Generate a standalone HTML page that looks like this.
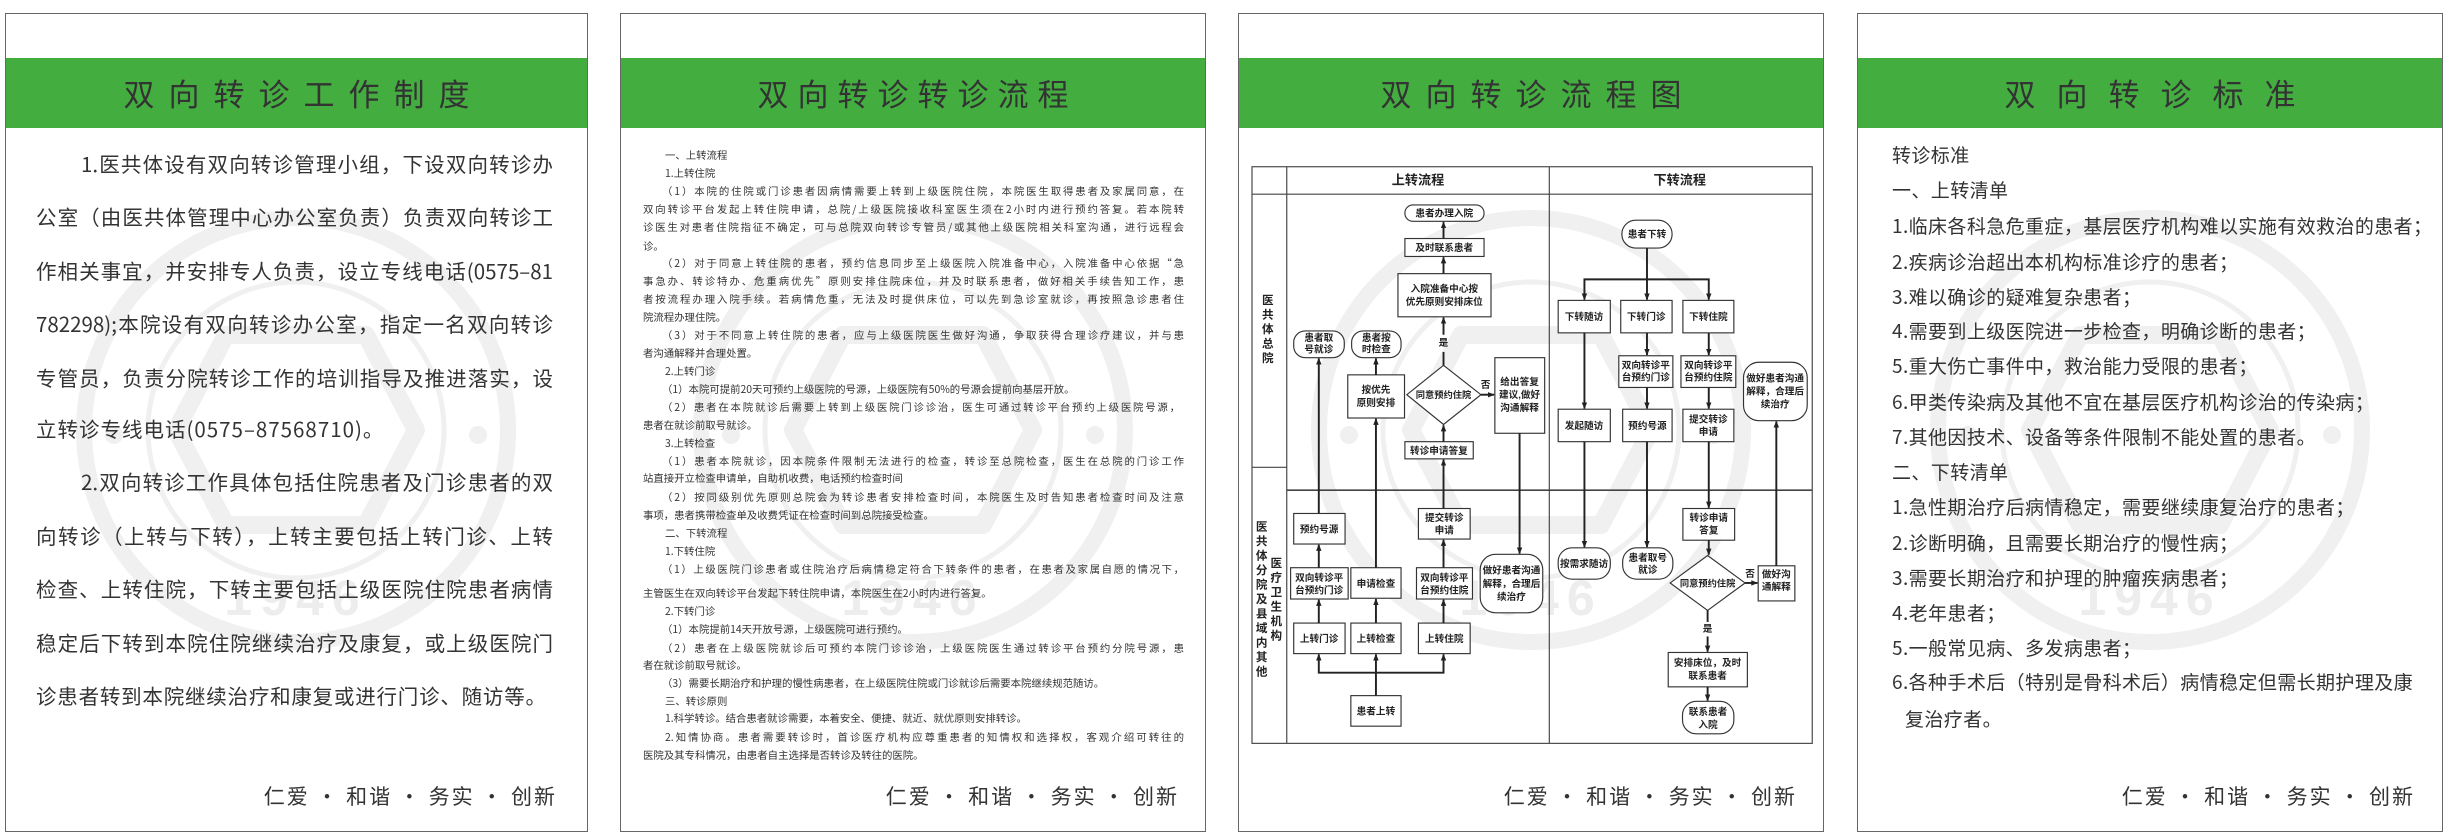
<!DOCTYPE html>
<html><head><meta charset="utf-8">
<style>
body{margin:0;width:2453px;height:839px;background:#fff;position:relative;overflow:hidden;font-family:"Liberation Sans","Noto Sans CJK SC",sans-serif;color:#333}
.pan{position:absolute;top:13px;height:819px;border:1.5px solid #666;box-sizing:border-box;background:#fff}
.band{position:absolute;top:58px;height:70px;background:#43ae3f}
.ttl{position:absolute;top:58px;height:70px;line-height:70px;text-align:center;font-size:31px;color:#333;font-family:"Noto Sans CJK SC",sans-serif}
.wm{position:absolute}
.l{position:absolute;white-space:nowrap;font-family:"Noto Sans CJK SC",sans-serif}
.j{text-align:justify;text-align-last:justify}
.a{font-size:20.5px;line-height:26px}
.b{font-size:10.4px;line-height:14px}
.c{font-size:19px;line-height:24px;letter-spacing:0.4px}
.slo{position:absolute;top:782px;font-size:21px;line-height:28px;white-space:nowrap;font-family:"Noto Sans CJK SC",sans-serif;letter-spacing:2px}
</style></head><body>

<div class="pan" style="left:5px;width:583px"></div>
<div class="pan" style="left:620px;width:586px"></div>
<div class="pan" style="left:1238px;width:586px"></div>
<div class="pan" style="left:1857px;width:586px"></div>

<!-- watermarks -->
<svg class="wm" style="left:66px;top:200px" width="460" height="460" viewBox="-230 -230 460 460">
<g fill="none" stroke="#f0f0f0"><circle r="212" stroke-width="16"/><circle r="148" stroke-width="5"/>
<path d="M-70,-95 L70,-95 L120,0 L70,95 L-70,95 L-120,0 Z" stroke-width="18" stroke-linejoin="round"/></g>
<circle cx="-182" cy="5" r="9" fill="#f0f0f0"/><circle cx="182" cy="5" r="9" fill="#f0f0f0"/>
<text x="0" y="185" text-anchor="middle" font-size="50" font-weight="bold" fill="#ededed" font-family="Liberation Sans,sans-serif" letter-spacing="8">1946</text></svg>
<svg class="wm" style="left:683px;top:200px" width="460" height="460" viewBox="-230 -230 460 460">
<g fill="none" stroke="#f0f0f0"><circle r="212" stroke-width="16"/><circle r="148" stroke-width="5"/>
<path d="M-70,-95 L70,-95 L120,0 L70,95 L-70,95 L-120,0 Z" stroke-width="18" stroke-linejoin="round"/></g>
<circle cx="-182" cy="5" r="9" fill="#f0f0f0"/><circle cx="182" cy="5" r="9" fill="#f0f0f0"/>
<text x="0" y="185" text-anchor="middle" font-size="50" font-weight="bold" fill="#ededed" font-family="Liberation Sans,sans-serif" letter-spacing="8">1946</text></svg>
<svg class="wm" style="left:1301px;top:200px" width="460" height="460" viewBox="-230 -230 460 460">
<g fill="none" stroke="#f0f0f0"><circle r="212" stroke-width="16"/><circle r="148" stroke-width="5"/>
<path d="M-70,-95 L70,-95 L120,0 L70,95 L-70,95 L-120,0 Z" stroke-width="18" stroke-linejoin="round"/></g>
<circle cx="-182" cy="5" r="9" fill="#f0f0f0"/><circle cx="182" cy="5" r="9" fill="#f0f0f0"/>
<text x="0" y="185" text-anchor="middle" font-size="50" font-weight="bold" fill="#ededed" font-family="Liberation Sans,sans-serif" letter-spacing="8">1946</text></svg>
<svg class="wm" style="left:1920px;top:200px" width="460" height="460" viewBox="-230 -230 460 460">
<g fill="none" stroke="#f0f0f0"><circle r="212" stroke-width="16"/><circle r="148" stroke-width="5"/>
<path d="M-70,-95 L70,-95 L120,0 L70,95 L-70,95 L-120,0 Z" stroke-width="18" stroke-linejoin="round"/></g>
<circle cx="-182" cy="5" r="9" fill="#f0f0f0"/><circle cx="182" cy="5" r="9" fill="#f0f0f0"/>
<text x="0" y="185" text-anchor="middle" font-size="50" font-weight="bold" fill="#ededed" font-family="Liberation Sans,sans-serif" letter-spacing="8">1946</text></svg>

<div class="band" style="left:6px;width:581px"></div>
<div class="band" style="left:621px;width:584px"></div>
<div class="band" style="left:1239px;width:584px"></div>
<div class="band" style="left:1858px;width:584px"></div>
<div class="ttl" style="left:6px;width:581px;letter-spacing:14px;text-indent:14px">双向转诊工作制度</div>
<div class="ttl" style="left:621px;width:584px;letter-spacing:9px;text-indent:9px">双向转诊转诊流程</div>
<div class="ttl" style="left:1239px;width:584px;letter-spacing:14px;text-indent:14px">双向转诊流程图</div>
<div class="ttl" style="left:1858px;width:584px;letter-spacing:21px;text-indent:21px">双向转诊标准</div>

<!-- panel 1 -->
<div class="l a j" style="left:81px;width:472px;top:150px">1.医共体设有双向转诊管理小组，下设双向转诊办</div>
<div class="l a j" style="left:36px;width:517px;top:203px">公室（由医共体管理中心办公室负责）负责双向转诊工</div>
<div class="l a j" style="left:36px;width:517px;top:257px">作相关事宜，并安排专人负责，设立专线电话(0575–81</div>
<div class="l a j" style="left:36px;width:517px;top:310px">782298);本院设有双向转诊办公室，指定一名双向转诊</div>
<div class="l a j" style="left:36px;width:517px;top:364px">专管员，负责分院转诊工作的培训指导及推进落实，设</div>
<div class="l a" style="left:36px;top:415px;letter-spacing:1px">立转诊专线电话(0575–87568710)。</div>
<div class="l a j" style="left:81px;width:472px;top:468px">2.双向转诊工作具体包括住院患者及门诊患者的双</div>
<div class="l a j" style="left:36px;width:517px;top:522px">向转诊（上转与下转），上转主要包括上转门诊、上转</div>
<div class="l a j" style="left:36px;width:517px;top:575px">检查、上转住院，下转主要包括上级医院住院患者病情</div>
<div class="l a j" style="left:36px;width:517px;top:629px">稳定后下转到本院住院继续治疗及康复，或上级医院门</div>
<div class="l a j" style="left:36px;width:510px;top:682px">诊患者转到本院继续治疗和康复或进行门诊、随访等。</div>
<div class="slo" style="right:1896px">仁爱 · 和谐 · 务实 · 创新</div>

<!-- panel 2 -->
<div class="l b" style="left:665px;top:148px">一、上转流程</div>
<div class="l b" style="left:665px;top:166px">1.上转住院</div>
<div class="l b j" style="left:662px;width:522px;top:184px">（1）本院的住院或门诊患者因病情需要上转到上级医院住院，本院医生取得患者及家属同意，在</div>
<div class="l b j" style="left:643px;width:541px;top:202px">双向转诊平台发起上转住院申请，总院/上级医院接收科室医生须在2小时内进行预约答复。若本院转</div>
<div class="l b j" style="left:643px;width:541px;top:220px">诊医生对患者住院指征不确定，可与总院双向转诊专管员/或其他上级医院相关科室沟通，进行远程会</div>
<div class="l b" style="left:643px;top:239px">诊。</div>
<div class="l b j" style="left:662px;width:522px;top:256px">（2）对于同意上转住院的患者，预约信息同步至上级医院入院准备中心，入院准备中心依据“急</div>
<div class="l b j" style="left:643px;width:541px;top:274px">事急办、转诊特办、危重病优先”原则安排住院床位，并及时联系患者，做好相关手续告知工作，患</div>
<div class="l b j" style="left:643px;width:541px;top:292px">者按流程办理入院手续。若病情危重，无法及时提供床位，可以先到急诊室就诊，再按照急诊患者住</div>
<div class="l b" style="left:643px;top:310px">院流程办理住院。</div>
<div class="l b j" style="left:662px;width:522px;top:328px">（3）对于不同意上转住院的患者，应与上级医院医生做好沟通，争取获得合理诊疗建议，并与患</div>
<div class="l b" style="left:643px;top:346px">者沟通解释并合理处置。</div>
<div class="l b" style="left:665px;top:364px">2.上转门诊</div>
<div class="l b" style="left:662px;top:382px">（1）本院可提前20天可预约上级医院的号源，上级医院有50%的号源会提前向基层开放。</div>
<div class="l b j" style="left:662px;width:518px;top:400px">（2）患者在本院就诊后需要上转到上级医院门诊诊治，医生可通过转诊平台预约上级医院号源，</div>
<div class="l b" style="left:643px;top:418px">患者在就诊前取号就诊。</div>
<div class="l b" style="left:665px;top:436px">3.上转检查</div>
<div class="l b j" style="left:662px;width:522px;top:454px">（1）患者本院就诊，因本院条件限制无法进行的检查，转诊至总院检查，医生在总院的门诊工作</div>
<div class="l b" style="left:643px;top:471px">站直接开立检查申请单，自助机收费，电话预约检查时间</div>
<div class="l b j" style="left:662px;width:522px;top:490px">（2）按同级别优先原则总院会为转诊患者安排检查时间，本院医生及时告知患者检查时间及注意</div>
<div class="l b" style="left:643px;top:508px">事项，患者携带检查单及收费凭证在检查时间到总院接受检查。</div>
<div class="l b" style="left:665px;top:526px">二、下转流程</div>
<div class="l b" style="left:665px;top:544px">1.下转住院</div>
<div class="l b j" style="left:662px;width:522px;top:562px">（1）上级医院门诊患者或住院治疗后病情稳定符合下转条件的患者，在患者及家属自愿的情况下，</div>
<div class="l b" style="left:643px;top:586px">主管医生在双向转诊平台发起下转住院申请，本院医生在2小时内进行答复。</div>
<div class="l b" style="left:665px;top:604px">2.下转门诊</div>
<div class="l b" style="left:662px;top:622px">（1）本院提前14天开放号源，上级医院可进行预约。</div>
<div class="l b j" style="left:662px;width:522px;top:641px">（2）患者在上级医院就诊后可预约本院门诊诊治，上级医院医生通过转诊平台预约分院号源，患</div>
<div class="l b" style="left:643px;top:658px">者在就诊前取号就诊。</div>
<div class="l b" style="left:662px;top:676px">（3）需要长期治疗和护理的慢性病患者，在上级医院住院或门诊就诊后需要本院继续规范随访。</div>
<div class="l b" style="left:665px;top:694px">三、转诊原则</div>
<div class="l b" style="left:665px;top:711px">1.科学转诊。结合患者就诊需要，本着安全、便捷、就近、就优原则安排转诊。</div>
<div class="l b j" style="left:665px;width:519px;top:730px">2.知情协商。患者需要转诊时，首诊医疗机构应尊重患者的知情权和选择权，客观介绍可转往的</div>
<div class="l b" style="left:643px;top:748px">医院及其专科情况，由患者自主选择是否转诊及转往的医院。</div>
<div class="slo" style="right:1274px">仁爱 · 和谐 · 务实 · 创新</div>

<!-- panel 3 flowchart -->
<svg style="position:absolute;left:1230px;top:140px" width="600" height="611" viewBox="0 0 1554 1600" preserveAspectRatio="none">
<defs><marker id="ar" markerUnits="userSpaceOnUse" markerWidth="18" markerHeight="18" refX="16" refY="9" orient="auto"><path d="M0,2 L18,9 L0,16 Z" fill="#222"/></marker></defs>
<g fill="none" stroke="#444" stroke-width="3">
<rect x="57" y="70" width="1451" height="1510"/>
<line x1="57" y1="142" x2="1508" y2="142"/>
<line x1="147" y1="70" x2="147" y2="1580"/>
<line x1="827" y1="70" x2="827" y2="1580"/>
<line x1="57" y1="857" x2="147" y2="857"/>
<line x1="147" y1="917" x2="1508" y2="917" stroke-width="4"/>
</g>
<g font-family="Liberation Sans,Noto Sans CJK SC,sans-serif" font-weight="bold" fill="#222" text-anchor="middle">
<text x="487" y="117" font-size="34">上转流程</text>
<text x="1165" y="117" font-size="34">下转流程</text>
<g font-size="30"><text x="98" y="430">医</text><text x="98" y="468">共</text><text x="98" y="506">体</text><text x="98" y="544">总</text><text x="98" y="582">院</text>
<text x="82" y="1022">医</text><text x="82" y="1060">共</text><text x="82" y="1098">体</text><text x="82" y="1136">分</text><text x="82" y="1174">院</text><text x="82" y="1212">及</text><text x="82" y="1250">县</text><text x="82" y="1288">域</text><text x="82" y="1326">内</text><text x="82" y="1364">其</text><text x="82" y="1402">他</text>
<text x="120" y="1118">医</text><text x="120" y="1156">疗</text><text x="120" y="1194">卫</text><text x="120" y="1232">生</text><text x="120" y="1270">机</text><text x="120" y="1308">构</text></g>
</g>
<g fill="#fff" stroke="#333" stroke-width="3">
<rect x="453" y="170" width="205" height="43" rx="21"/>
<rect x="453" y="258" width="205" height="47"/>
<rect x="435" y="350" width="241" height="113"/>
<path d="M553,590 L650,667 L553,745 L458,667 Z"/>
<rect x="686" y="570" width="129" height="198"/>
<rect x="453" y="790" width="177" height="45"/>
<rect x="165" y="500" width="131" height="70" rx="30"/>
<rect x="315" y="500" width="128" height="70" rx="30"/>
<rect x="305" y="615" width="147" height="113"/>
<rect x="165" y="978" width="133" height="80"/>
<rect x="157" y="1120" width="149" height="82"/>
<rect x="313" y="1120" width="130" height="80"/>
<rect x="488" y="965" width="134" height="80"/>
<rect x="483" y="1120" width="145" height="82"/>
<rect x="648" y="1085" width="162" height="153" rx="40"/>
<rect x="165" y="1265" width="133" height="80"/>
<rect x="313" y="1265" width="130" height="80"/>
<rect x="488" y="1265" width="134" height="80"/>
<rect x="313" y="1455" width="130" height="80"/>
<rect x="1015" y="210" width="130" height="73" rx="36"/>
<rect x="850" y="420" width="135" height="85"/>
<rect x="1012" y="420" width="133" height="85"/>
<rect x="1173" y="420" width="132" height="85"/>
<rect x="1007" y="565" width="140" height="83"/>
<rect x="1168" y="565" width="142" height="83"/>
<rect x="850" y="705" width="135" height="85"/>
<rect x="1017" y="705" width="128" height="85"/>
<rect x="1173" y="705" width="132" height="85"/>
<rect x="1330" y="582" width="165" height="153" rx="40"/>
<rect x="850" y="1068" width="135" height="82" rx="36"/>
<rect x="1017" y="1068" width="130" height="82" rx="36"/>
<rect x="1173" y="965" width="134" height="83"/>
<path d="M1237,1088 L1334,1160 L1237,1232 L1140,1160 Z"/>
<rect x="1368" y="1115" width="95" height="92"/>
<rect x="1135" y="1342" width="205" height="90"/>
<rect x="1172" y="1470" width="133" height="85" rx="36"/>
</g>
<g stroke="#222" stroke-width="5" fill="none" marker-end="url(#ar)">
<line x1="553" y1="258" x2="553" y2="215"/>
<line x1="553" y1="350" x2="553" y2="307"/>
<line x1="553" y1="510" x2="553" y2="465"/>
<line x1="553" y1="790" x2="553" y2="747"/>
<line x1="553" y1="965" x2="553" y2="837"/>
<line x1="553" y1="1120" x2="553" y2="1047"/>
<line x1="553" y1="1265" x2="553" y2="1204"/>
<line x1="650" y1="667" x2="684" y2="667"/>
<line x1="230" y1="978" x2="230" y2="572"/>
<line x1="230" y1="1120" x2="230" y2="1060"/>
<line x1="230" y1="1265" x2="230" y2="1204"/>
<line x1="378" y1="615" x2="378" y2="572"/>
<line x1="378" y1="1120" x2="378" y2="730"/>
<line x1="378" y1="1265" x2="378" y2="1202"/>
<line x1="750" y1="768" x2="750" y2="1083"/>
<line x1="378" y1="1455" x2="378" y2="1347"/>
<polyline points="378,1395 230,1395 230,1347"/>
<polyline points="378,1395 553,1395 553,1347"/>
<polyline points="1080,365 918,365 918,418"/>
<polyline points="1080,365 1240,365 1240,418"/>
<line x1="1080" y1="283" x2="1080" y2="418"/>
<line x1="1080" y1="505" x2="1080" y2="563"/>
<line x1="1240" y1="505" x2="1240" y2="563"/>
<line x1="918" y1="505" x2="918" y2="703"/>
<line x1="1080" y1="648" x2="1080" y2="703"/>
<line x1="1240" y1="648" x2="1240" y2="703"/>
<line x1="918" y1="790" x2="918" y2="1066"/>
<line x1="1080" y1="790" x2="1080" y2="1066"/>
<line x1="1240" y1="790" x2="1240" y2="963"/>
<line x1="1240" y1="1048" x2="1240" y2="1086"/>
<line x1="1334" y1="1160" x2="1366" y2="1160"/>
<line x1="1415" y1="1115" x2="1415" y2="737"/>
<line x1="1237" y1="1300" x2="1237" y2="1340"/>
<line x1="1237" y1="1432" x2="1237" y2="1468"/>
</g>
<g stroke="#222" stroke-width="5"><line x1="553" y1="590" x2="553" y2="555"/><line x1="1237" y1="1232" x2="1237" y2="1262"/></g>
<g font-family="Liberation Sans,Noto Sans CJK SC,sans-serif" font-weight="bold" fill="#222" text-anchor="middle" font-size="25">
<text x="555" y="200">患者办理入院</text>
<text x="555" y="291">及时联系患者</text>
<text x="555" y="398">入院准备中心按</text><text x="555" y="432">优先原则安排床位</text>
<text x="553" y="540">是</text>
<text x="553" y="676" font-size="24">同意预约住院</text>
<text x="662" y="650">否</text>
<text x="750" y="642">给出答复</text><text x="750" y="676">建议,做好</text><text x="750" y="710">沟通解释</text>
<text x="541" y="822">转诊申请答复</text>
<text x="230" y="527">患者取</text><text x="230" y="557">号就诊</text>
<text x="379" y="527">患者按</text><text x="379" y="557">时检查</text>
<text x="378" y="663">按优先</text><text x="378" y="697">原则安排</text>
<text x="231" y="1028">预约号源</text>
<text x="231" y="1155">双向转诊平</text><text x="231" y="1187">台预约门诊</text>
<text x="378" y="1170">申请检查</text>
<text x="555" y="998">提交转诊</text><text x="555" y="1030">申请</text>
<text x="555" y="1155">双向转诊平</text><text x="555" y="1187">台预约住院</text>
<text x="729" y="1135">做好患者沟通</text><text x="729" y="1170">解释，合理后</text><text x="729" y="1204">续治疗</text>
<text x="231" y="1315">上转门诊</text>
<text x="378" y="1315">上转检查</text>
<text x="555" y="1315">上转住院</text>
<text x="378" y="1505">患者上转</text>
<text x="1080" y="255">患者下转</text>
<text x="917" y="472">下转随访</text>
<text x="1078" y="472">下转门诊</text>
<text x="1239" y="472">下转住院</text>
<text x="1077" y="598">双向转诊平</text><text x="1077" y="630">台预约门诊</text>
<text x="1239" y="598">双向转诊平</text><text x="1239" y="630">台预约住院</text>
<text x="917" y="757">发起随访</text>
<text x="1081" y="757">预约号源</text>
<text x="1239" y="740">提交转诊</text><text x="1239" y="772">申请</text>
<text x="1412" y="632">做好患者沟通</text><text x="1412" y="666">解释，合理后</text><text x="1412" y="700">续治疗</text>
<text x="917" y="1118">按需求随访</text>
<text x="1082" y="1102">患者取号</text><text x="1082" y="1134">就诊</text>
<text x="1240" y="998">转诊申请</text><text x="1240" y="1030">答复</text>
<text x="1237" y="1169" font-size="24">同意预约住院</text>
<text x="1347" y="1145">否</text>
<text x="1415" y="1146">做好沟</text><text x="1415" y="1178">通解释</text>
<text x="1237" y="1288">是</text>
<text x="1237" y="1378">安排床位，及时</text><text x="1237" y="1412">联系患者</text>
<text x="1238" y="1506">联系患者</text><text x="1238" y="1540">入院</text>
</g>
</svg>
<div class="slo" style="right:656px">仁爱 · 和谐 · 务实 · 创新</div>

<!-- panel 4 -->
<div class="l c" style="left:1892px;top:143px">转诊标准</div>
<div class="l c" style="left:1892px;top:178px">一、上转清单</div>
<div class="l c" style="left:1892px;top:214px">1.临床各科急危重症，基层医疗机构难以实施有效救治的患者；</div>
<div class="l c" style="left:1892px;top:250px">2.疾病诊治超出本机构标准诊疗的患者；</div>
<div class="l c" style="left:1892px;top:285px">3.难以确诊的疑难复杂患者；</div>
<div class="l c" style="left:1892px;top:319px">4.需要到上级医院进一步检查，明确诊断的患者；</div>
<div class="l c" style="left:1892px;top:354px">5.重大伤亡事件中，救治能力受限的患者；</div>
<div class="l c" style="left:1892px;top:390px">6.甲类传染病及其他不宜在基层医疗机构诊治的传染病；</div>
<div class="l c" style="left:1892px;top:425px">7.其他因技术、设备等条件限制不能处置的患者。</div>
<div class="l c" style="left:1892px;top:460px">二、下转清单</div>
<div class="l c" style="left:1892px;top:495px">1.急性期治疗后病情稳定，需要继续康复治疗的患者；</div>
<div class="l c" style="left:1892px;top:531px">2.诊断明确，且需要长期治疗的慢性病；</div>
<div class="l c" style="left:1892px;top:566px">3.需要长期治疗和护理的肿瘤疾病患者；</div>
<div class="l c" style="left:1892px;top:601px">4.老年患者；</div>
<div class="l c" style="left:1892px;top:636px">5.一般常见病、多发病患者；</div>
<div class="l c" style="left:1892px;top:670px">6.各种手术后（特别是骨科术后）病情稳定但需长期护理及康</div>
<div class="l c" style="left:1905px;top:707px">复治疗者。</div>
<div class="slo" style="right:38px">仁爱 · 和谐 · 务实 · 创新</div>
</body></html>
